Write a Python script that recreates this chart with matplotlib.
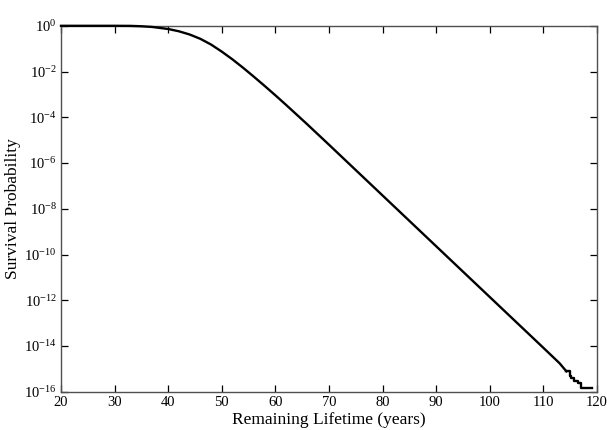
import numpy as np
import matplotlib
matplotlib.use('Agg')
import matplotlib.pyplot as plt
from matplotlib.ticker import FixedLocator, NullLocator

plt.rcParams['font.family'] = ['Liberation Serif', 'DejaVu Serif']
plt.rcParams['mathtext.fontset'] = 'custom'
plt.rcParams['mathtext.rm'] = 'Liberation Serif'
plt.rcParams['mathtext.it'] = 'Liberation Serif:italic'

# Remaining lifetime (years) and log10 of survival probability
ages = [20, 25, 30, 33, 35, 37, 40, 42, 44, 46, 48, 50, 52, 54, 56, 58, 60,
        62, 64, 66, 68, 70, 75, 80, 85, 90, 95, 100, 105, 110, 113, 114.3]
log_surv = [0.0, 0.0, 0.0, -0.004, -0.02, -0.05, -0.14, -0.24, -0.38, -0.57,
            -0.82, -1.13, -1.47, -1.84, -2.23, -2.63, -3.04, -3.46, -3.89,
            -4.32, -4.76, -5.2, -6.31, -7.42, -8.53, -9.64, -10.75, -11.86,
            -12.97, -14.08, -14.75, -15.11]

# ragged tail at the oldest ages (step-wise)
tail_ages = [114.3, 114.9, 115.2, 115.8, 116.4, 117.1, 119.0]
tail_log = [-15.11, -15.3, -15.4, -15.55, -15.62, -15.83, -15.83]

x_ticks = [20, 30, 40, 50, 60, 70, 80, 90, 100, 110, 120]
y_ticks = [1e0, 1e-2, 1e-4, 1e-6, 1e-8, 1e-10, 1e-12, 1e-14, 1e-16]

fig = plt.figure(figsize=(6.07, 4.30), dpi=100)
ax = fig.add_axes([0.1005, 0.089, 0.883, 0.851])

ax.semilogy(ages, 10 ** np.array(log_surv), color='black', lw=1.7,
            clip_on=False, zorder=5)
ax.plot(tail_ages, 10 ** np.array(tail_log), color='black', lw=1.7,
        drawstyle='steps-post', zorder=5)

ax.set_xlim(20, 120)
ax.set_ylim(1e-16, 1e0)
ax.xaxis.set_major_locator(FixedLocator(x_ticks))
ax.yaxis.set_major_locator(FixedLocator(y_ticks))
ax.yaxis.set_minor_locator(NullLocator())
ax.tick_params(direction='in', length=5, width=0.9, top=True, right=True,
               labelsize=10.5, colors='black', pad=3)
for s in ax.spines.values():
    s.set_color('#505050')
    s.set_linewidth(1.0)

ax.set_xlabel('Remaining Lifetime (years)', fontsize=12.5, labelpad=2)
ax.set_ylabel('Survival Probability', fontsize=12.5, labelpad=2)

fig.savefig('out.png', dpi=100)
